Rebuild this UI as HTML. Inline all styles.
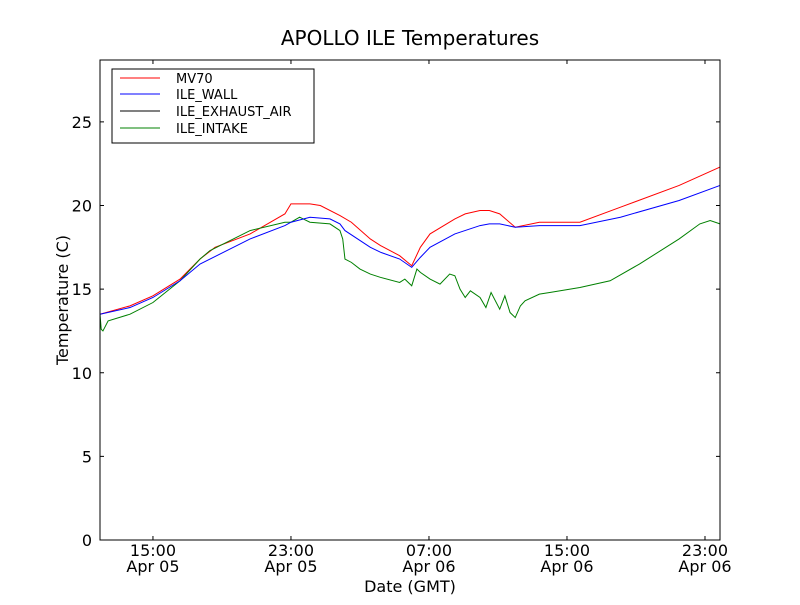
<!DOCTYPE html>
<html><head><meta charset="utf-8"><style>
body{margin:0;background:#fff}
svg text{font-family:"DejaVu Sans","Liberation Sans",sans-serif}
</style></head><body>
<svg id="chart" width="800" height="600">
<rect width="800" height="600" fill="#fff"/>
<text x="410" y="45" font-size="20" text-anchor="middle">APOLLO ILE Temperatures</text>
<g id="plot"></g>
<rect x="100" y="60" width="620" height="480" fill="none" stroke="#000"/>
<text x="410" y="592" font-size="16" text-anchor="middle">Date (GMT)</text>
<text x="68" y="300" font-size="16" text-anchor="middle" transform="rotate(-90 68 300)">Temperature (C)</text>
<g>
<rect x="112" y="69" width="202" height="74" fill="#fff" stroke="#000"/>
<line x1="120" y1="78" x2="160" y2="78" stroke="#ff0000"/><text x="176" y="83" font-size="13">MV70</text>
<line x1="120" y1="94" x2="160" y2="94" stroke="#0000ff"/><text x="176" y="99" font-size="13">ILE_WALL</text>
<line x1="120" y1="111" x2="160" y2="111" stroke="#000"/><text x="176" y="116" font-size="13">ILE_EXHAUST_AIR</text>
<line x1="120" y1="128" x2="160" y2="128" stroke="#008000"/><text x="176" y="133" font-size="13">ILE_INTAKE</text>
</g>
</svg>
<script>
const yTicks=[0,5,10,15,20,25];
const xTicks=[15,23,31,39,47];
const xTickLabels=[["15:00","Apr 05"],["23:00","Apr 05"],["07:00","Apr 06"],["15:00","Apr 06"],["23:00","Apr 06"]];
const mvT=[11.93,13.67,15,16.57,17.73,18.6,20.63,22.65,23,24.1,24.7,25.84,26.5,27.6,28.2,29.3,30.0,30.5,31.06,32.5,33.1,33.96,34.5,35.1,36,37.4,39.75,42.1,45.5,47.87];
const mvV=[13.5,14.0,14.6,15.6,16.8,17.5,18.3,19.5,20.1,20.1,20.0,19.4,19.0,18.0,17.6,17.0,16.4,17.5,18.3,19.2,19.5,19.7,19.7,19.5,18.7,19.0,19.0,19.9,21.2,22.3];
const wallT=[11.93,13.67,15,16.57,17.73,20.63,22.65,23,24.1,25.26,25.84,26.13,27.6,28.2,29.3,30.0,30.5,31.06,32.5,33.96,34.5,35.1,36,37.4,39.75,42.1,45.5,47.87];
const wallV=[13.5,13.9,14.5,15.5,16.5,18.0,18.8,19.0,19.3,19.2,18.9,18.5,17.5,17.2,16.8,16.3,16.9,17.5,18.3,18.8,18.9,18.9,18.7,18.8,18.8,19.3,20.3,21.2];
const intakeT=[11.93,12.0,12.1,12.4,13.67,15,16.57,17.73,18.3,20.63,22.65,23,23.5,24.1,25.26,25.84,26.0,26.13,26.5,27,27.6,28.2,29.3,29.6,30.0,30.3,30.5,31.06,31.64,32.2,32.5,32.8,33.1,33.4,33.96,34.3,34.6,35.1,35.4,35.7,36,36.3,36.57,37.4,38,39.75,41.5,43.2,45.5,46.7,47.3,47.87];
const intakeV=[13.5,12.6,12.5,13.1,13.5,14.2,15.5,16.8,17.3,18.5,19.0,19.0,19.3,19.0,18.9,18.5,18.0,16.8,16.6,16.2,15.9,15.7,15.4,15.6,15.2,16.2,16.0,15.6,15.3,15.9,15.8,15.0,14.5,14.9,14.5,13.9,14.8,13.8,14.6,13.6,13.3,14.0,14.3,14.7,14.8,15.1,15.5,16.5,18.0,18.9,19.1,18.9];
const X0=100,X1=720,Y0=540,Y1=60,tMin=11.93,tMax=47.87,vMin=0,vMax=28.7;
const sx=t=>X0+(t-tMin)/(tMax-tMin)*(X1-X0);
const sy=v=>Y0-(v-vMin)/(vMax-vMin)*(Y0-Y1);
const NS="http://www.w3.org/2000/svg";
const plot=document.getElementById('plot');
yTicks.forEach(v=>{
 const y=sy(v);
 const l=document.createElementNS(NS,'path');
 l.setAttribute('d',`M100 ${y}H104M720 ${y}H716`);l.setAttribute('stroke','#000');
 
 
 plot.appendChild(l);
 const t=document.createElementNS(NS,'text');
 t.setAttribute('x',92);t.setAttribute('y',y+6);t.setAttribute('font-size','16');t.setAttribute('text-anchor','end');
 t.textContent=v;
 
 
 plot.appendChild(t);
});
xTicks.forEach((v,i)=>{
 const x=sx(v);
 const l=document.createElementNS(NS,'path');
 l.setAttribute('d',`M${x} 540V536M${x} 60V64`);l.setAttribute('stroke','#000');
 
 
 plot.appendChild(l);
 xTickLabels[i].forEach((s,j)=>{
  const t=document.createElementNS(NS,'text');
  t.setAttribute('x',x);t.setAttribute('y',556+j*16);t.setAttribute('font-size','16');t.setAttribute('text-anchor','middle');
  t.textContent=s;
  
  
  plot.appendChild(t);
 });
});
function line(ts,vs,color,name){
 const p=document.createElementNS(NS,'polyline');
 p.setAttribute('points',ts.map((t,i)=>sx(t)+','+sy(vs[i])).join(' '));
 p.setAttribute('fill','none');p.setAttribute('stroke',color);p.setAttribute('stroke-width','1');
 
 
 plot.appendChild(p);
}
line(mvT,mvV,'#ff0000','mv70-line');
line(intakeT,intakeV,'#008000','ile-intake-line');
line(wallT,wallV,'#0000ff','ile-wall-line');
</script>
</body></html>
